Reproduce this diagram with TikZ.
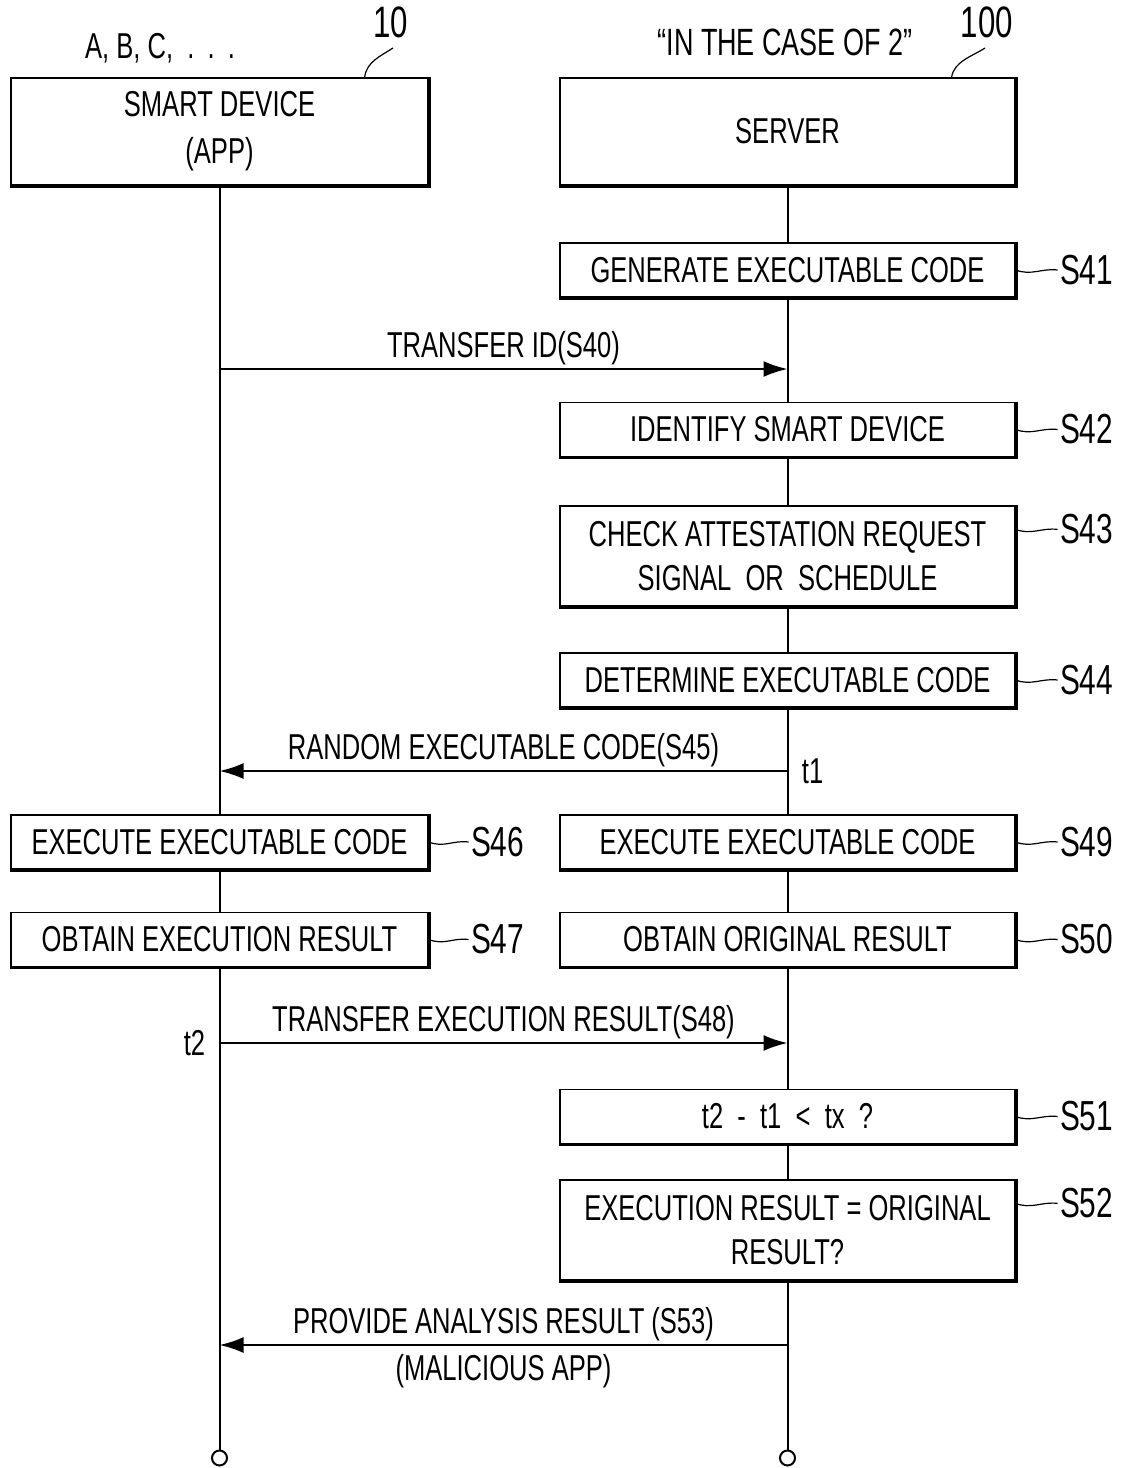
\documentclass[tikz,border=0pt]{standalone}
\usepackage{fontspec}
\setmainfont[FakeStretch=0.71]{Liberation Sans}
\usetikzlibrary{
  arrows.meta,
  backgrounds,
  positioning
}
\tikzset{
  lifeline/.style={line width=1pt},
  msg/.style={
    -{Latex[length=12pt,width=8pt]},
    line width=1pt
  },
  msglabel/.style={
    font=\fontsize{18}{22}\selectfont,
    inner sep=1pt
  },
  stepbox/.style={
    draw,
    line width=0.6pt,
    fill=white,
    minimum height=27pt,
    inner sep=2pt,
    align=center,
    font=\fontsize{18}{22}\selectfont,
    append after command={\pgfextra{
      \draw[line width=2pt] (\tikzlastnode.north east) --
        (\tikzlastnode.south east) -- (\tikzlastnode.south west);}}
  },
  devbox/.style={
    stepbox,
    minimum width=208.5pt
  },
  srvbox/.style={
    stepbox,
    minimum width=227.5pt
  },
  steplabel/.style={
    font=\fontsize{21}{24}\selectfont,
    inner sep=0pt
  },
  reflabel/.style={
    font=\fontsize{22}{24}\selectfont,
    inner sep=0pt
  },
  leader/.style={line width=0.6pt},
  endmark/.style={
    circle,
    draw,
    line width=1pt,
    fill=white,
    minimum size=7.5pt,
    inner sep=0pt
  }
}

\begin{document}
\begin{tikzpicture}[x=0.5pt, y=-0.5pt]
  \useasboundingbox (0,0) rectangle (1127,1468);

  % Participants.
  \node[devbox, minimum height=53.5pt] (device) at (219.5,131.5) {
    SMART DEVICE\\[1.5pt]
    (APP)
  };
  \node[srvbox, minimum height=53.5pt] (server) at (787.5,131.5) {SERVER};
  \node[msglabel] (apps) at (160,48) {A, B, C, \ .\ \,.\ \,.};
  \node[msglabel, font=\fontsize{19}{22}\selectfont] (casetwo) at (785,42) {“IN THE CASE OF 2”};
  \node[reflabel] (ref10) at (391,22) {10};
  \node[reflabel] (ref100) at (987,22) {100};
  \draw[leader] ([xshift=-32pt]device.north east) .. controls +(1pt,8pt) and
    +(-6pt,-4pt) .. ([xshift=1pt,yshift=-5pt]ref10.south);
  \draw[leader] ([xshift=-32pt]server.north east) .. controls +(1pt,8pt) and
    +(-6pt,-4pt) .. ([xshift=-1pt,yshift=-5pt]ref100.south);

  % Server steps.
  \node[srvbox] (s41) at (787.5,270) {GENERATE EXECUTABLE CODE};
  \node[srvbox] (s42) at (787.5,429.5) {IDENTIFY SMART DEVICE};
  \node[srvbox, minimum height=50pt] (s43) at (787.5,556) {
    CHECK ATTESTATION REQUEST\\
    SIGNAL \ OR \ SCHEDULE
  };
  \node[srvbox] (s44) at (787.5,680) {DETERMINE EXECUTABLE CODE};
  \node[srvbox] (s49) at (787.5,842) {EXECUTE EXECUTABLE CODE};
  \node[srvbox] (s50) at (787.5,939.5) {OBTAIN ORIGINAL RESULT};
  \node[srvbox] (s51) at (787.5,1116.5) {t2 \ - \ t1 \ < \ tx \ ?};
  \node[srvbox, minimum height=50pt] (s52) at (787.5,1230) {
    EXECUTION RESULT = ORIGINAL\\
    RESULT?
  };

  % Device steps.
  \node[devbox] (s46) at (219.5,842) {EXECUTE EXECUTABLE CODE};
  \node[devbox] (s47) at (219.5,939.5) {OBTAIN EXECUTION RESULT};

  % Step numbers.
  \foreach \s in {41,42,44,49,50,51} {
    \node[steplabel, right=22pt of s\s] (l\s) {S\s};
    \draw[leader] (s\s.east) .. controls +(8pt,-3pt) and +(-8pt,1pt) .. ([xshift=-1pt]l\s.west);
  }
  \foreach \s in {46,47} {
    \node[steplabel, right=21pt of s\s] (l\s) {S\s};
    \draw[leader] (s\s.east) .. controls +(8pt,-3pt) and +(-8pt,1pt) .. ([xshift=-1pt]l\s.west);
  }
  \foreach \s in {43,52} {
    \node[steplabel, right=22pt of s\s.north east, yshift=-12pt] (l\s) {S\s};
    \draw[leader] (s\s.east |- l\s.west) .. controls +(8pt,-3pt) and
      +(-8pt,1pt) .. ([xshift=-1pt]l\s.west);
  }

  % Lifelines.
  \node[endmark] (devend) at (219.5,1458) {};
  \node[endmark] (srvend) at (787.5,1458) {};
  \begin{scope}[on background layer]
    \draw[lifeline] (device.south) -- (devend.north);
    \draw[lifeline] (server.south) -- (srvend.north);
  \end{scope}

  % Messages.
  \coordinate (d40) at (219.5,369);
  \coordinate (v40) at (787.5,369);
  \coordinate (d45) at (219.5,771);
  \coordinate (v45) at (787.5,771);
  \coordinate (d48) at (219.5,1043);
  \coordinate (v48) at (787.5,1043);
  \coordinate (d53) at (219.5,1345);
  \coordinate (v53) at (787.5,1345);
  \draw[msg] (d40) -- node[msglabel, above=0.5pt] {TRANSFER ID(S40)} (v40);
  \draw[msg] (v45) -- node[msglabel, above=0.5pt] {RANDOM EXECUTABLE CODE(S45)} (d45);
  \draw[msg] (d48) -- node[msglabel, above=0.5pt] {TRANSFER EXECUTION RESULT(S48)} (v48);
  \draw[msg] (v53) --
    node[msglabel, above=0.5pt] {PROVIDE ANALYSIS RESULT (S53)}
    node[msglabel, below=3pt] {(MALICIOUS APP)} (d53);
  \node[msglabel, right=6pt of v45] (t1) {t1};
  \node[msglabel, left=6pt of d48] (t2) {t2};
\end{tikzpicture}
\end{document}
